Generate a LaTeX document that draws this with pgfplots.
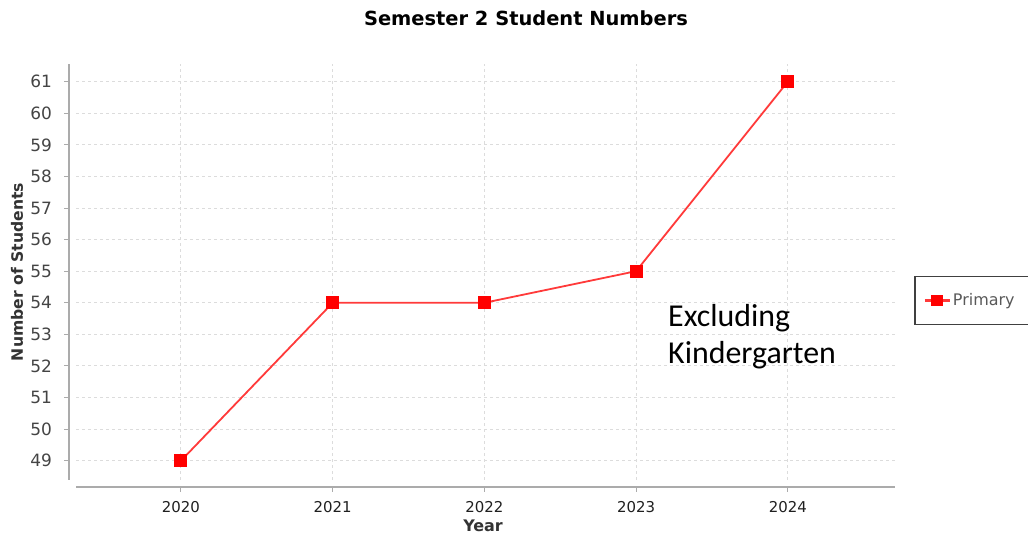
\documentclass[border=0pt]{standalone}
\usepackage{pgfplots}
\pgfplotsset{compat=1.18}
\usepackage{fontspec}
\setmainfont{DejaVu Sans}
\newfontfamily\notefont{Carlito}
\definecolor{gridgray}{HTML}{DCDCDC}
\definecolor{axisgray}{HTML}{ABABAB}
\definecolor{ticktext}{HTML}{444444}
\definecolor{labeltext}{HTML}{333333}
\definecolor{seriesred}{HTML}{FF3A3A}

% Primary enrolment, semester 2
\pgfplotstableread{
year students
2020 49
2021 54
2022 54
2023 55
2024 61
}\primary

\begin{document}
\begin{tikzpicture}[x=1bp,y=1bp]
\useasboundingbox (0,0) rectangle (1028,537);
\clip (0,0) rectangle (1028,537);
\begin{axis}[
  at={(76bp,57bp)}, anchor=south west,
  scale only axis, width=819bp, height=416bp,
  xmin=2019.308, xmax=2024.707,
  ymin=48.39, ymax=61.56,
  xtick={2020,2021,2022,2023,2024},
  ytick={49,50,...,61},
  /pgf/number format/assume math mode=true,
  /pgf/number format/set thousands separator={},
  axis line style={draw=none},
  xtick pos=bottom, ytick pos=left,
  tick align=outside,
  major tick length=5bp,
  xtick style={axisgray, line width=1bp, yshift=-7bp},
  ytick style={axisgray, line width=1bp, xshift=-7bp},
  xticklabel style={font=\fontsize{15}{17}\selectfont, text=black!88,
    anchor=north, inner sep=0pt, yshift=-16.5bp},
  yticklabel style={font=\fontsize{17}{19}\selectfont, text=ticktext,
    anchor=east, inner sep=0pt, xshift=-19bp},
  grid=major,
  grid style={gridgray, line width=1bp, dash pattern=on 3bp off 3bp},
  legend style={at={(1.0232,0.4904)}, anchor=north west,
    draw=black!75, line width=1.5bp, fill=white,
    inner xsep=9bp, inner ysep=15bp,
    font=\fontsize{16}{18}\selectfont, text=black!65,
    legend cell align=left},
  legend image code/.code={
    \draw[line width=2.2bp] (0bp,0bp) -- (25bp,0bp);
    \fill[red] (7.5bp,-5bp) rectangle (17.5bp,5bp);},
]
\addplot[seriesred, line width=1.8bp, mark=square*,
  mark size=6bp, mark options={fill=red, draw=red, line width=0pt}]
  table[x=year, y=students] {\primary};
\addlegendentry{\makebox[100bp][l]{Primary}}
\end{axis}

% offset axis lines
\draw[axisgray, line width=1.5bp] (69,57) -- (69,473);
\draw[axisgray, line width=1.5bp] (76,50) -- (895,50);

% title and axis labels
\node[font=\bfseries\fontsize{19.5}{22}\selectfont] at (526,519)
  {Semester 2 Student Numbers};
\node[font=\bfseries\fontsize{15.7}{18}\selectfont, text=labeltext,
  rotate=90] at (17,265) {Number of Students};
\node[font=\bfseries\fontsize{16}{18}\selectfont, text=labeltext]
  at (483,11) {Year};

% note
\node[font=\notefont\fontsize{32}{36}\selectfont, anchor=base west,
  inner sep=0pt] at (668,210) {Excluding};
\node[font=\notefont\fontsize{32}{36}\selectfont, anchor=base west,
  inner sep=0pt] at (668,173) {Kindergarten};
\end{tikzpicture}
\end{document}
